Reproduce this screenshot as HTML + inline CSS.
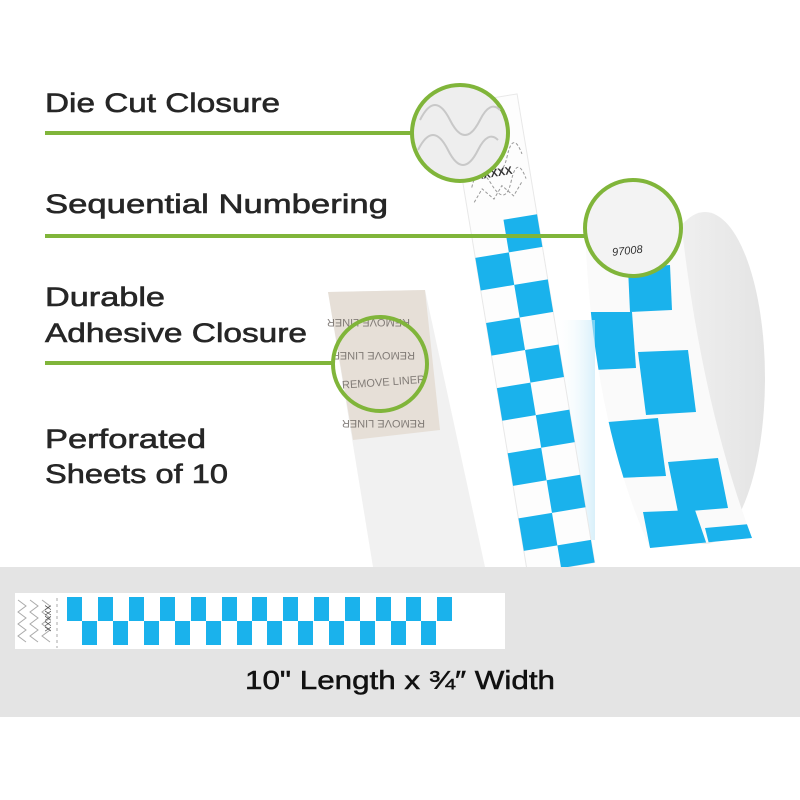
<!DOCTYPE html>
<html><head><meta charset="utf-8"><style>
html,body{margin:0;padding:0;background:#fff;}
svg{display:block;}
text{font-family:"Liberation Sans",sans-serif;}
</style></head><body>
<svg width="800" height="800" viewBox="0 0 800 800" xmlns="http://www.w3.org/2000/svg">
<defs>
<linearGradient id="rollg" x1="0" x2="1"><stop offset="0" stop-color="#f4f4f4"/><stop offset="1" stop-color="#e4e4e4"/></linearGradient>
<clipPath id="bandclip"><path d="M585,228 L680,212 Q700,400 752,538 L650,548 Q592,420 585,228 Z"/></clipPath>
<linearGradient id="fade" x1="0" x2="1"><stop offset="0" stop-color="#fff" stop-opacity="0"/><stop offset="1" stop-color="#bfe6f7"/></linearGradient>
</defs>
<rect width="800" height="800" fill="#fff"/>

<g fill="#262626" stroke="#262626" stroke-width="0.6" font-size="27">
<text x="45" y="112" textLength="235" lengthAdjust="spacingAndGlyphs">Die Cut Closure</text>
<text x="45" y="213" textLength="343" lengthAdjust="spacingAndGlyphs">Sequential Numbering</text>
<text x="45" y="306" textLength="120" lengthAdjust="spacingAndGlyphs">Durable</text>
<text x="45" y="342" textLength="262" lengthAdjust="spacingAndGlyphs">Adhesive Closure</text>
<text x="45" y="448" textLength="161" lengthAdjust="spacingAndGlyphs">Perforated</text>
<text x="45" y="483" textLength="183" lengthAdjust="spacingAndGlyphs">Sheets of 10</text>
</g>

<path d="M328,292 L425,290 L485,567 L373,567 Z" fill="#f1f1f1"/>
<path d="M328,292 L425,290 L440,430 L353,440 Z" fill="#e6dfd7"/>
<g fill="#6a6460" font-size="11" opacity="0.8">
<text x="360" y="325" transform="rotate(180 385 322)">REMOVE LINER</text>
<text x="345" y="360" transform="rotate(180 380 356)">REMOVE LINER</text>
<text x="342" y="386" transform="rotate(-4 380 383)">REMOVE LINER</text>
<text x="355" y="428" transform="rotate(180 390 424)">REMOVE LINER</text>
</g>

<ellipse cx="705" cy="378" rx="60" ry="166" fill="url(#rollg)"/>
<path d="M585,228 L680,212 Q700,400 752,538 L650,548 Q592,420 585,228 Z" fill="#fafafa"/>
<g clip-path="url(#bandclip)" fill="#1ab2ec">
<polygon points="628,268 670,265 672,310 630,312"/>
<polygon points="590,312 632,312 636,368 594,370"/>
<polygon points="638,352 688,350 696,412 646,415"/>
<polygon points="608,422 658,418 666,476 618,478"/>
<polygon points="668,462 718,458 728,508 678,512"/>
<polygon points="643,512 695,510 708,548 650,548"/>
<polygon points="705,528 750,524 756,545 710,548"/>
</g>
<rect x="555" y="320" width="40" height="220" fill="url(#fade)" opacity="0.6"/>

<g transform="translate(450,105) rotate(-9.4)">
<rect x="0" y="0" width="68" height="475" fill="#fdfdfd" stroke="#e8e8e8"/>
<g fill="none" stroke="#999" stroke-width="1" stroke-dasharray="3,2">
<path d="M8,100 l10,-12 l10,12 l10,-12 l10,12 l10,-12"/>
<path d="M8,85 q10,-25 20,0 q10,25 20,0 q10,-25 15,0"/>
<path d="M8,60 q10,-25 20,0 q10,25 20,0 q10,-25 15,0"/>
</g>
<text x="14" y="78" font-size="11" fill="#333" font-weight="bold">XXXXX</text>
<g fill="#1ab2ec">
<rect x="34" y="122" width="34" height="33"/>
<rect x="0" y="155" width="34" height="33"/>
<rect x="34" y="188" width="34" height="33"/>
<rect x="0" y="221" width="34" height="33"/>
<rect x="34" y="254" width="34" height="33"/>
<rect x="0" y="287" width="34" height="33"/>
<rect x="34" y="320" width="34" height="33"/>
<rect x="0" y="353" width="34" height="33"/>
<rect x="34" y="386" width="34" height="33"/>
<rect x="0" y="419" width="34" height="33"/>
<rect x="34" y="452" width="34" height="23"/>
</g>
</g>

<g stroke="#80b53a" stroke-width="4" fill="none">
<line x1="45" y1="133" x2="412" y2="133"/>
<line x1="45" y1="236" x2="585" y2="236"/>
<line x1="45" y1="363" x2="333" y2="363"/>
</g>
<circle cx="460" cy="133" r="48" fill="#eeeeee" stroke="#80b53a" stroke-width="4"/>
<g fill="none" stroke="#c8c8c8" stroke-width="2">
<path d="M420,120 q15,-30 30,0 q15,30 30,0 q10,-20 20,-10"/>
<path d="M418,150 q15,-30 30,0 q15,30 30,0 q10,-20 20,-10"/>
</g>
<circle cx="633" cy="228" r="48" fill="#f3f3f3" stroke="#80b53a" stroke-width="4"/>
<text x="612" y="254" font-size="11" fill="#333" font-style="italic" transform="rotate(-6 630 250)">97008</text>
<circle cx="380" cy="364" r="47" fill="none" stroke="#80b53a" stroke-width="4"/>

<rect x="0" y="567" width="800" height="150" fill="#e4e4e4"/>
<rect x="15" y="593" width="490" height="56" fill="#fff"/>
<g fill="none" stroke="#aaa" stroke-width="1">
<path d="M18,600 l8,6 l-8,6 l8,6 l-8,6 l8,6 l-8,6 l8,6"/>
<path d="M30,600 l8,6 l-8,6 l8,6 l-8,6 l8,6 l-8,6 l8,6"/>
<path d="M42,600 l8,6 l-8,6 l8,6 l-8,6 l8,6 l-8,6 l8,6"/>
<path d="M57,598 l0,50" stroke-dasharray="3,3"/>
</g>
<text x="0" y="0" font-size="8" fill="#444" transform="translate(45,605) rotate(90)">XXXXX</text>
<g fill="#1ab2ec">
<rect x="67" y="597" width="15" height="24"/><rect x="82" y="621" width="15" height="24"/>
<rect x="98" y="597" width="15" height="24"/><rect x="113" y="621" width="15" height="24"/>
<rect x="129" y="597" width="15" height="24"/><rect x="144" y="621" width="15" height="24"/>
<rect x="160" y="597" width="15" height="24"/><rect x="175" y="621" width="15" height="24"/>
<rect x="191" y="597" width="15" height="24"/><rect x="206" y="621" width="15" height="24"/>
<rect x="222" y="597" width="15" height="24"/><rect x="237" y="621" width="15" height="24"/>
<rect x="252" y="597" width="15" height="24"/><rect x="267" y="621" width="15" height="24"/>
<rect x="283" y="597" width="15" height="24"/><rect x="298" y="621" width="15" height="24"/>
<rect x="314" y="597" width="15" height="24"/><rect x="329" y="621" width="15" height="24"/>
<rect x="345" y="597" width="15" height="24"/><rect x="360" y="621" width="15" height="24"/>
<rect x="376" y="597" width="15" height="24"/><rect x="391" y="621" width="15" height="24"/>
<rect x="406" y="597" width="15" height="24"/><rect x="421" y="621" width="15" height="24"/>
<rect x="437" y="597" width="15" height="24"/>
</g>
<text x="400" y="689" font-size="26" fill="#111" stroke="#111" stroke-width="0.5" text-anchor="middle" textLength="310" lengthAdjust="spacingAndGlyphs">10" Length x ¾″ Width</text>
</svg>
</body></html>
